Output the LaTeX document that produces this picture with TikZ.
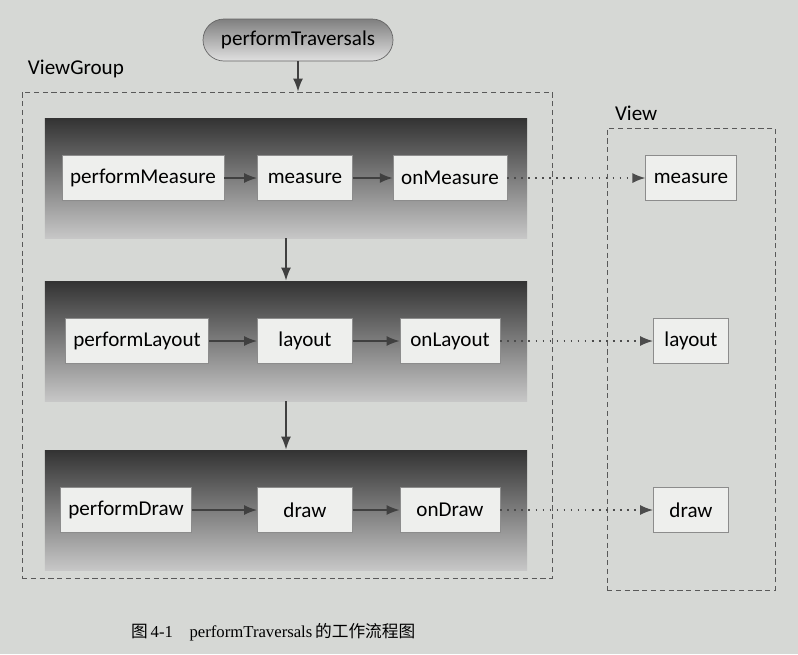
\documentclass[tikz,border=0pt]{standalone}
\usepackage{fontspec}
\setmainfont{Carlito}
\newfontfamily\capfont{Liberation Serif}
\newfontfamily\cjk{Noto Sans CJK SC}
\usetikzlibrary{arrows.meta,positioning}
\definecolor{paper}{RGB}{214,216,213}
\definecolor{boxfill}{RGB}{238,239,237}

\begin{document}
\begin{tikzpicture}[x=0.2mm,y=-0.2mm,
        font=\fontsize{12}{14}\selectfont,
        callbox/.style={draw=black!45,fill=boxfill,minimum height=9mm,inner xsep=1.6mm},
        band/.style={top color=black!80,middle color=black!45,bottom color=black!22,
                minimum width=96.4mm,minimum height=24mm},
        frame/.style={draw=black!65,dash pattern=on 3pt off 2pt},
        flow/.style={-{Latex[length=2.6mm,width=2mm]},line width=1pt,draw=black!75},
        hook/.style={-{Latex[length=2.6mm,width=2mm]},line width=1pt,
                dash pattern=on 1pt off 3pt,draw=black!70}]

        % page
        \useasboundingbox[fill=paper] (0,0) rectangle (798,654);

        % the two dashed frames
        \node[frame,minimum width=106mm,minimum height=97.2mm] (vg) at (287,335) {};
        \node[frame,minimum width=33.6mm,minimum height=92.4mm] (v) at (691,359) {};
        \node[anchor=south west,inner sep=0] (vgLabel) at ([xshift=1.2mm,yshift=2.6mm]vg.north west) {ViewGroup};
        \node[anchor=south west,inner sep=0] (vLabel) at ([xshift=1.6mm,yshift=1.4mm]v.north west) {View};

        % entry point
        \node[draw=black!60,top color=black!50,bottom color=black!12,rounded corners=4.2mm,
                minimum width=38mm,minimum height=8.4mm] (pt) at (298,40) {performTraversals};
        \draw[flow] (pt.south) -- (pt.south |- vg.north);

        % the three stages
        \foreach \y/\x/\a/\b/\c in {178/143/Measure/measure/meas,341/137/Layout/layout/lay,510/126/Draw/draw/drw} {
                \node[band] (band\c) at (286,\y) {};
                \node[callbox] (perf\c) at (\x,\y) {perform\a};
                \node[callbox,minimum width=19mm] (mid\c) at (305,\y) {\b};
                \node[callbox,minimum width=20mm] (on\c) at (450,\y) {on\a};
                \node[callbox,minimum width=15mm] (view\c) at (691,\y) {\b};
                \draw[flow] (perf\c) -- (mid\c);
                \draw[flow] (mid\c) -- (on\c);
                \draw[hook] (on\c) -- (view\c);
        }
        \draw[flow] (bandmeas.south) -- (bandlay.north);
        \draw[flow] (bandlay.south) -- (banddrw.north);

        % caption
        \node[anchor=west,font=\capfont\fontsize{9.5}{11}\selectfont] (cap) at (125,632)
                {{\cjk 图}\,4-1\quad performTraversals\,{\cjk 的工作流程图}};
\end{tikzpicture}
\end{document}
